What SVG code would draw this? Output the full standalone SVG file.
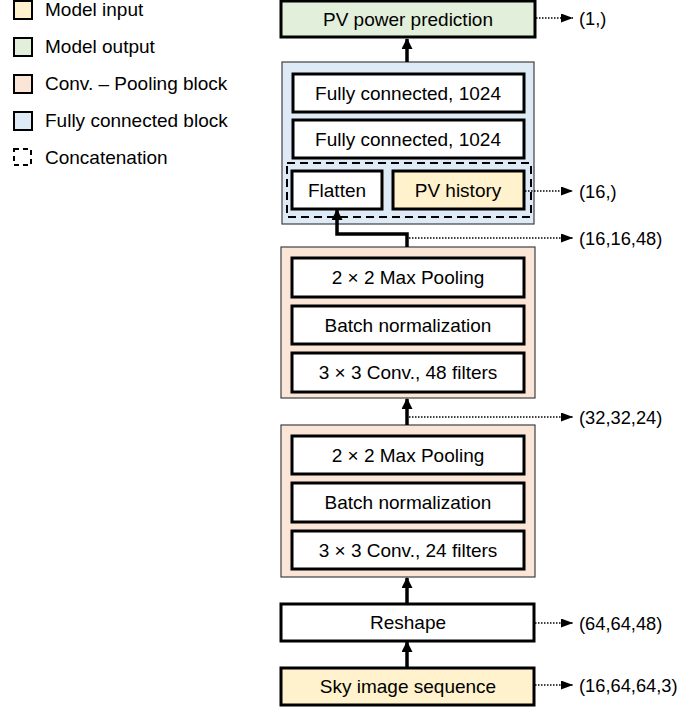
<svg xmlns="http://www.w3.org/2000/svg" width="683" height="709" viewBox="0 0 683 709">
<style>
text{font-family:"Liberation Sans",Arial,sans-serif;font-size:19px;fill:#000}
.c{text-anchor:middle}
.box{fill:#fff;stroke:#000;stroke-width:3}
.in{fill:#fff2cc}
.out{fill:#e2efda}
.blk{stroke:#404040;stroke-width:1.2}
.fc{fill:#deebf7}
.cp{fill:#fbe5d6}
.lg{stroke:#000;stroke-width:2}
.dash{fill:none;stroke:#000;stroke-width:2;stroke-dasharray:8 5}
.arr{fill:none;stroke:#000;stroke-width:3.5}
.dot{fill:none;stroke:#000;stroke-width:1.5;stroke-dasharray:1.5 1.5}
.lab{font-size:18.3px}
</style>
<defs>
<marker id="ah" markerUnits="userSpaceOnUse" markerWidth="11" markerHeight="11" viewBox="0 0 11 11" refX="10" refY="5.5" orient="auto">
<path d="M0,0 L11,5.5 L0,11 Z" fill="#000"/>
</marker>
<marker id="dh" markerUnits="userSpaceOnUse" markerWidth="12" markerHeight="9" viewBox="0 0 12 9" refX="12" refY="4.5" orient="auto">
<path d="M0,0 L12,4.5 L0,9 Z" fill="#000"/>
</marker>
</defs>

<g id="legend">
<rect class="lg" x="14" y="1" width="18" height="18" fill="#fff2cc"/>
<text x="45" y="16">Model input</text>
<rect class="lg" x="14" y="38" width="18" height="18" fill="#e2efda"/>
<text x="45" y="53">Model output</text>
<rect class="lg" x="14" y="75" width="18" height="18" fill="#fbe5d6"/>
<text x="45" y="90">Conv. – Pooling block</text>
<rect class="lg" x="14" y="112" width="18" height="18" fill="#deebf7"/>
<text x="45" y="127">Fully connected block</text>
<rect x="14" y="149" width="17" height="16" fill="none" stroke="#000" stroke-width="2" stroke-dasharray="5 4"/>
<text x="45" y="164">Concatenation</text>
</g>

<g id="fc-block">
<rect class="blk fc" x="282" y="62" width="252" height="162"/>
</g>
<g id="conv-block-2">
<rect class="blk cp" x="281" y="247" width="254" height="151"/>
</g>
<g id="conv-block-1">
<rect class="blk cp" x="281" y="425" width="254" height="152"/>
</g>

<g id="connectors">
<line class="arr" x1="407" y1="62" x2="407" y2="39" marker-end="url(#ah)"/>
<polyline class="arr" points="407,247 407,234 337,234 337,210" marker-end="url(#ah)"/>
<line class="arr" x1="407" y1="425" x2="407" y2="399" marker-end="url(#ah)"/>
<line class="arr" x1="407" y1="604" x2="407" y2="578" marker-end="url(#ah)"/>
<line class="arr" x1="407" y1="668" x2="407" y2="642" marker-end="url(#ah)"/>
<line class="dot" x1="536" y1="18" x2="573" y2="18" marker-end="url(#dh)"/>
<line class="dot" x1="525" y1="191" x2="573" y2="191" marker-end="url(#dh)"/>
<line class="dot" x1="409" y1="238" x2="573" y2="238" marker-end="url(#dh)"/>
<line class="dot" x1="409" y1="417" x2="573" y2="417" marker-end="url(#dh)"/>
<line class="dot" x1="535" y1="623" x2="573" y2="623" marker-end="url(#dh)"/>
<line class="dot" x1="535" y1="685" x2="573" y2="685" marker-end="url(#dh)"/>
</g>

<g id="pv-power-prediction">
<rect class="box out" x="281" y="1" width="254" height="36"/>
<text class="c" x="408" y="26">PV power prediction</text>
<text class="lab" x="579" y="25">(1,)</text>
</g>
<g id="fc1">
<rect class="box" x="293" y="74" width="231" height="38"/>
<text class="c" x="408" y="100">Fully connected, 1024</text>
</g>
<g id="fc2">
<rect class="box" x="293" y="120" width="231" height="38"/>
<text class="c" x="408" y="146">Fully connected, 1024</text>
</g>
<g id="concat">
<rect class="dash" x="287" y="163" width="244" height="54"/>
</g>
<g id="flatten">
<rect class="box" x="292" y="171" width="90" height="38"/>
<text class="c" x="337" y="197">Flatten</text>
</g>
<g id="pv-history">
<rect class="box in" x="393" y="171" width="131" height="38"/>
<text class="c" x="458" y="197">PV history</text>
<text class="lab" x="579" y="198">(16,)</text>
</g>
<g id="label-16-16-48"><text class="lab" x="579" y="245">(16,16,48)</text></g>

<g id="maxpool-2">
<rect class="box" x="292" y="258" width="232" height="39"/>
<text class="c" x="408" y="284">2 × 2 Max Pooling</text>
</g>
<g id="batchnorm-2">
<rect class="box" x="292" y="306" width="232" height="38"/>
<text class="c" x="408" y="332">Batch normalization</text>
</g>
<g id="conv-48">
<rect class="box" x="292" y="353" width="232" height="39"/>
<text class="c" x="408" y="379">3 × 3 Conv., 48 filters</text>
</g>
<g id="label-32-32-24"><text class="lab" x="579" y="424">(32,32,24)</text></g>

<g id="maxpool-1">
<rect class="box" x="292" y="436" width="232" height="38"/>
<text class="c" x="408" y="462">2 × 2 Max Pooling</text>
</g>
<g id="batchnorm-1">
<rect class="box" x="292" y="483" width="232" height="39"/>
<text class="c" x="408" y="509">Batch normalization</text>
</g>
<g id="conv-24">
<rect class="box" x="292" y="531" width="232" height="38"/>
<text class="c" x="408" y="557">3 × 3 Conv., 24 filters</text>
</g>

<g id="reshape">
<rect class="box" x="281" y="604" width="253" height="37"/>
<text class="c" x="408" y="629">Reshape</text>
<text class="lab" x="579" y="630">(64,64,48)</text>
</g>
<g id="sky-image-sequence">
<rect class="box in" x="281" y="668" width="253" height="37"/>
<text class="c" x="408" y="693">Sky image sequence</text>
<text class="lab" x="579" y="692">(16,64,64,3)</text>
</g>
</svg>
